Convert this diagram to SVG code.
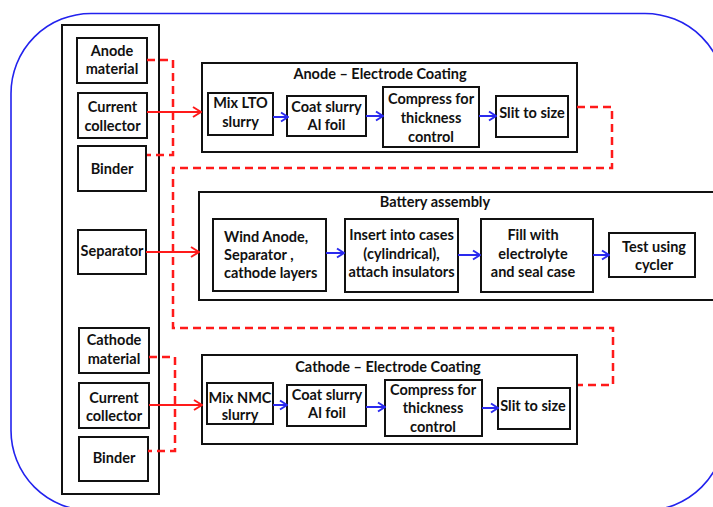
<svg xmlns="http://www.w3.org/2000/svg" width="713" height="507" viewBox="0 0 713 507">
<style>
text{font-family:"Lato","Liberation Sans",sans-serif;font-weight:bold;font-size:14.5px;fill:#111;text-anchor:middle}
.box{fill:#fff;stroke:#111;stroke-width:2}
.dash{fill:none;stroke:#ff1a1a;stroke-width:2.5;stroke-dasharray:8 5}
.red{fill:none;stroke:#ff1a1a;stroke-width:2}
.blue{fill:none;stroke:#2a2aee;stroke-width:2}
</style>
<defs>
<marker id="ar" markerWidth="10" markerHeight="12" refX="9" refY="6" orient="auto" markerUnits="userSpaceOnUse">
<path d="M1,1 L9,6 L1,11" fill="none" stroke="#ff1a1a" stroke-width="2"/>
</marker>
<marker id="ab" markerWidth="10" markerHeight="12" refX="9" refY="6" orient="auto" markerUnits="userSpaceOnUse">
<path d="M2,1.5 L9,6 L2,10.5" fill="none" stroke="#2a2aee" stroke-width="2"/>
</marker>
</defs>
<rect x="11" y="13.5" width="714" height="497" rx="80" ry="80" fill="none" stroke="#2222ee" stroke-width="1.6"/>
<g id="materials">
<rect class="box" x="62" y="25" width="97" height="469"/>
</g>
<g id="anode-material"><rect class="box" x="77" y="38" width="70" height="45"/><text x="112" y="56">Anode</text><text x="112" y="74">material</text></g>
<g id="anode-collector"><rect class="box" x="78" y="93" width="69" height="45"/><text x="112.5" y="112">Current</text><text x="112.5" y="131">collector</text></g>
<g id="anode-binder"><rect class="box" x="78" y="146" width="68" height="45"/><text x="112" y="174">Binder</text></g>
<g id="separator"><rect class="box" x="78" y="230" width="68" height="44"/><text x="112" y="256">Separator</text></g>
<g id="cathode-material"><rect class="box" x="79" y="328" width="70" height="45"/><text x="114" y="345">Cathode</text><text x="114" y="364">material</text></g>
<g id="cathode-collector"><rect class="box" x="79" y="383" width="70" height="45"/><text x="114" y="403">Current</text><text x="114" y="421">collector</text></g>
<g id="cathode-binder"><rect class="box" x="79" y="437" width="69" height="44"/><text x="114" y="463">Binder</text></g>

<g id="anode-coating"><rect class="box" x="202" y="63" width="375" height="89"/><text x="380" y="79">Anode – Electrode Coating</text></g>
<g id="mix-lto"><rect class="box" x="208" y="93" width="65" height="42"/><text x="240.5" y="108">Mix LTO</text><text x="240.5" y="127">slurry</text></g>
<g id="coat-anode"><rect class="box" x="287" y="96" width="79" height="40"/><text x="326.5" y="112">Coat slurry</text><text x="326.5" y="130">Al foil</text></g>
<g id="compress-anode"><rect class="box" x="383" y="87" width="96" height="60"/><text x="431" y="104">Compress for</text><text x="431" y="123">thickness</text><text x="431" y="142">control</text></g>
<g id="slit-anode"><rect class="box" x="496" y="96" width="72" height="41"/><text x="532" y="118">Slit to size</text></g>

<g id="battery-assembly"><rect class="box" x="199" y="192" width="530" height="108"/><text x="435" y="207">Battery assembly</text></g>
<g id="wind"><rect class="box" x="213" y="219" width="113" height="72"/><text x="224" y="242" style="text-anchor:start">Wind Anode,</text><text x="224" y="260" style="text-anchor:start">Separator ,</text><text x="224" y="278" style="text-anchor:start">cathode layers</text></g>
<g id="insert"><rect class="box" x="345" y="219" width="113" height="73"/><text x="401.5" y="240">Insert into cases</text><text x="401.5" y="259">(cylindrical),</text><text x="401.5" y="277">attach insulators</text></g>
<g id="fill"><rect class="box" x="481" y="219" width="112" height="73"/><text x="533" y="240">Fill with</text><text x="533" y="259">electrolyte</text><text x="533" y="277">and seal case</text></g>
<g id="test"><rect class="box" x="609" y="233" width="86" height="44"/><text x="654" y="252">Test using</text><text x="654" y="270">cycler</text></g>

<g id="cathode-coating"><rect class="box" x="202" y="355" width="375" height="89"/><text x="388" y="372">Cathode – Electrode Coating</text></g>
<g id="mix-nmc"><rect class="box" x="207" y="383" width="66" height="41"/><text x="240" y="403">Mix NMC</text><text x="240" y="420">slurry</text></g>
<g id="coat-cathode"><rect class="box" x="287" y="385" width="79" height="41"/><text x="327" y="400">Coat slurry</text><text x="327" y="418">Al foil</text></g>
<g id="compress-cathode"><rect class="box" x="385" y="380" width="97" height="56"/><text x="433" y="395">Compress for</text><text x="433" y="413">thickness</text><text x="433" y="432">control</text></g>
<g id="slit-cathode"><rect class="box" x="498" y="388" width="72" height="41"/><text x="533" y="411">Slit to size</text></g>

<g id="connectors">
<path class="dash" d="M147,60 H173 V155 H147"/>
<path class="dash" d="M577,107 H612 V168 H173 V328 H613 V385 H578"/>
<path class="dash" d="M149,357 H175 V451 H148"/>
<line class="red" x1="147" y1="112" x2="201" y2="112" marker-end="url(#ar)"/>
<line class="red" x1="146" y1="252" x2="199" y2="252" marker-end="url(#ar)"/>
<line class="red" x1="149" y1="405" x2="202" y2="405" marker-end="url(#ar)"/>
<line class="blue" x1="273" y1="117" x2="288" y2="117" marker-end="url(#ab)"/>
<line class="blue" x1="366" y1="116" x2="383" y2="116" marker-end="url(#ab)"/>
<line class="blue" x1="479" y1="116" x2="496" y2="116" marker-end="url(#ab)"/>
<line class="blue" x1="326" y1="253" x2="344" y2="253" marker-end="url(#ab)"/>
<line class="blue" x1="458" y1="255" x2="480" y2="255" marker-end="url(#ab)"/>
<line class="blue" x1="593" y1="255" x2="609" y2="255" marker-end="url(#ab)"/>
<line class="blue" x1="273" y1="405" x2="287" y2="405" marker-end="url(#ab)"/>
<line class="blue" x1="366" y1="407" x2="385" y2="407" marker-end="url(#ab)"/>
<line class="blue" x1="482" y1="408" x2="498" y2="408" marker-end="url(#ab)"/>
</g>
</svg>
